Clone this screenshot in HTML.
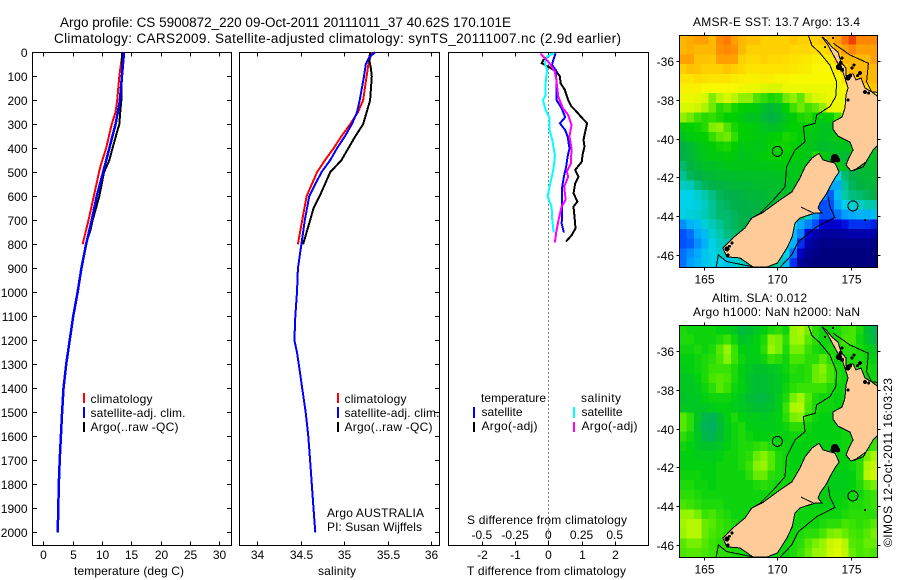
<!DOCTYPE html>
<html lang="en">
<head>
<meta charset="utf-8">
<title>Argo profile chart</title>
<style>
html,body{margin:0;padding:0;background:#fff;}
svg{display:block;font-family:"Liberation Sans",sans-serif;font-size:12px;fill:#000;}
.lbl{font-size:12px;}
.ttl{font-size:13.5px;}
</style>
</head>
<body>
<svg id="chart" xmlns="http://www.w3.org/2000/svg" width="900" height="580" viewBox="0 0 900 580">
  <rect x="0" y="0" width="900" height="580" fill="#fff"/>
  <defs>
    <clipPath id="clipSst"><rect x="679.5" y="35" width="198" height="232"/></clipPath>
    <clipPath id="clipSla"><rect x="679.5" y="325" width="198" height="232"/></clipPath>
  </defs>

  <text class="ttl" x="60" y="27" textLength="451" lengthAdjust="spacing">Argo profile: CS 5900872_220 09-Oct-2011 20111011_37 40.62S 170.101E</text>
  <text class="ttl" x="54" y="43" textLength="567" lengthAdjust="spacing">Climatology: CARS2009. Satellite-adjusted climatology: synTS_20111007.nc (2.9d earlier)</text>

  <text class="lbl" x="74" y="575" textLength="110" lengthAdjust="spacing">temperature (deg C)</text>
  <text class="lbl" x="318" y="575" textLength="38" lengthAdjust="spacing">salinity</text>
  <text class="lbl" x="467" y="575" textLength="159" lengthAdjust="spacing">T difference from climatology</text>
  <text class="lbl" x="467" y="524" textLength="160" lengthAdjust="spacing">S difference from climatology</text>

  <g>
    <rect x="83" y="393" width="2" height="10" fill="#f00"/>
    <text class="lbl" x="90.500" y="403" textLength="62" lengthAdjust="spacing">climatology</text>
    <rect x="83" y="407" width="2" height="11" fill="#00f"/>
    <text class="lbl" x="90.500" y="417" textLength="95" lengthAdjust="spacing">satellite-adj. clim.</text>
    <rect x="83" y="422" width="2" height="10" fill="#000"/>
    <text class="lbl" x="90.500" y="431" textLength="88" lengthAdjust="spacing">Argo(..raw -QC)</text>
  </g>
  <g>
    <rect x="337" y="393" width="2" height="10" fill="#f00"/>
    <text class="lbl" x="344.500" y="403" textLength="62" lengthAdjust="spacing">climatology</text>
    <rect x="337" y="407" width="2" height="11" fill="#00f"/>
    <text class="lbl" x="344.500" y="417" textLength="95" lengthAdjust="spacing">satellite-adj. clim.</text>
    <rect x="337" y="422" width="2" height="10" fill="#000"/>
    <text class="lbl" x="344.500" y="431" textLength="88" lengthAdjust="spacing">Argo(..raw -QC)</text>
  </g>
  <text class="lbl" x="327" y="517" textLength="97" lengthAdjust="spacing">Argo AUSTRALIA</text>
  <text class="lbl" x="327" y="531" textLength="95" lengthAdjust="spacing">PI: Susan Wijffels</text>

  <g>
    <text class="lbl" x="481" y="402" textLength="65" lengthAdjust="spacing">temperature</text>
    <text class="lbl" x="581" y="402" textLength="40" lengthAdjust="spacing">salinity</text>
    <rect x="473" y="407" width="2" height="11" fill="#00f"/>
    <text class="lbl" x="481.500" y="416" textLength="41" lengthAdjust="spacing">satellite</text>
    <rect x="473" y="422" width="2" height="10" fill="#000"/>
    <text class="lbl" x="481.500" y="430" textLength="56" lengthAdjust="spacing">Argo(-adj)</text>
    <rect x="573" y="407" width="2" height="11" fill="#0ff"/>
    <text class="lbl" x="581.500" y="416" textLength="41" lengthAdjust="spacing">satellite</text>
    <rect x="573" y="422" width="2" height="10" fill="#f0f"/>
    <text class="lbl" x="581.500" y="430" textLength="56" lengthAdjust="spacing">Argo(-adj)</text>
  </g>

  <text class="lbl" x="693" y="26" textLength="167" lengthAdjust="spacing">AMSR-E SST: 13.7 Argo: 13.4</text>
  <text class="lbl" x="712" y="302" textLength="95" lengthAdjust="spacing">Altim. SLA: 0.012</text>
  <text class="lbl" x="693" y="316" textLength="167" lengthAdjust="spacing">Argo h1000: NaN h2000: NaN</text>
  <text class="lbl" transform="translate(892,547) rotate(-90)" textLength="169" lengthAdjust="spacing">©IMOS 12-Oct-2011 16:03:23</text>
</svg>

<script>
// ---- profile data ----
const depthTicks = [0,100,200,300,400,500,600,700,800,900,1000,1100,1200,1300,1400,1500,1600,1700,1800,1900,2000];
const tempTicks = [0,5,10,15,20,25,30];
const salTicks = [34,34.5,35,35.5,36];
const salTickLabels = ['34','34.5','35','35.5','36'];
const tDiffTicks = [-2,-1,0,1,2];
const sDiffTicks = [-0.5,-0.25,0,0.25,0.5];
const sDiffTickLabels = ['-0.5','-0.25','0','0.25','0.5'];

const climTempDepth = [0,100,200,250,300,400,470,500,600,700,800];
const climTemp = [13.5,12.95,12.6,12.3,11.65,10.7,9.8,9.5,8.6,7.7,6.7];
const satTempDepth = [0,100,200,250,300,400,500,600,700,800,900,1000,1100,1200,1300,1400,1500,1600,1700,1800,1900,2000];
const satTemp = [13.75,13.4,13.05,12.7,12.3,11.25,10.2,9.1,8.25,7.3,6.5,5.85,5.1,4.5,3.9,3.45,3.2,3.0,2.8,2.65,2.55,2.45];
const argoTempDepth = [0,100,200,250,300,330,400,450,500,600,700,740,790];
const argoTemp = [13.4,13.4,13.3,13.1,12.95,12.6,11.8,11.25,10.35,9.55,8.4,8.05,7.4];

const climSalDepth = [0,50,100,200,250,300,350,400,450,500,550,600,700,800];
const climSal = [35.32,35.28,35.26,35.22,35.16,35.07,34.97,34.88,34.78,34.69,34.63,34.57,34.52,34.47];
const satSalDepth = [0,20,50,100,200,250,300,350,400,450,500,550,600,700,800,900,1000,1100,1200,1250,1300,1400,1500,1600,1700,1800,1900,2000];
const satSal = [35.36,35.29,35.25,35.23,35.18,35.15,35.09,35.01,34.92,34.84,34.74,34.67,34.6,34.55,34.51,34.47,34.46,34.44,34.43,34.46,34.48,34.52,34.56,34.59,34.61,34.63,34.65,34.67];
const argoSalDepth = [0,30,70,100,200,250,300,350,400,450,500,550,600,650,700,750,800];
const argoSal = [35.3,35.29,35.31,35.32,35.3,35.26,35.22,35.13,35.05,34.97,34.84,34.78,34.72,34.65,34.61,34.57,34.53];

const satTDiffDepth = [4,32,53,74,143,199,233,271,296,324,351,400,435,476,518,560,629,685,713,751];
const satTDiff = [.22,.15,.11,.23,.25,.25,.40,.51,.35,.51,.58,.64,.58,.54,.47,.42,.42,.42,.40,.47];
const argoTDiffDepth = [7,32,46,60,81,101,129,157,199,226,247,271,296,331,365,393,428,456,490,518,546,588,622,643,685,733,761,789];
const argoTDiff = [.10,-.15,-.2,0,.25,.35,.37,.5,.6,.7,.85,1.0,1.17,1.11,1.06,1.09,1.03,1.01,.81,.91,.81,.76,.88,.76,.79,.82,.71,.53];
const satSDiffDepth = [4,18,46,74,129,178,199,240,275,324,365,428,483,560,601,643,699,751];
const satSDiff = [.04,-.01,-.025,-.01,-.02,-.02,-.04,-.02,.01,.01,.03,.05,.04,.01,-.005,.025,.03,.04];
const argoSDiffDepth = [4,25,46,81,115,185,233,261,303,351,400,463,497,518,560,615,643,692,747,792];
const argoSDiff = [-.06,-.025,.01,.05,.06,.075,.11,.15,.175,.16,.175,.17,.14,.15,.12,.13,.10,.08,.06,.05];

// ---- map data ----
const mapLonTicks = [165,170,175];
const mapLatTicks = [-36,-38,-40,-42,-44,-46];
const gridLonStart = 163.34;
const gridLatStart = -34.66;
const gridStep = 0.5;

const sstGrid = [
[16.5,16.8,17,17,16.5,17.5,17.8,17,16.5,16.3,16.3,16,16,16,16,16.2,16,16,16,16.2,16.5,17,18,18.5,17.5,17.5,17.5],
[16.5,16.7,16.5,16.5,16.5,17.3,17.5,17.3,16.5,16,16,16,16,16,16,15.8,15.8,15.8,15.7,15.7,16,16.5,17,17.5,17,17,17],
[17,17,16.3,16.3,16.2,17,17,17,16,15.8,15.8,16,15.8,15.8,15.7,15.6,15.5,15.4,15.2,15.2,15.4,16,16.5,16.5,16.5,16.5,17],
[16,16.3,16.2,16,16,16,16.2,16,15.8,15.5,15.5,15.5,15.5,15.5,15.5,15.4,15.3,15.2,15,15,15,15.3,16,16.5,16.5,16.5,16.5],
[15.5,15.5,15.7,15.6,15.5,15.5,15.5,15.3,15.2,15.2,15.2,15.3,15.2,15.1,15.1,15,15,15,15,15,15,15,15.5,16,16.5,16.5,16.5],
[15.2,15.2,15.2,15,15,15,15,15,14.9,14.8,14.8,14.6,14.5,14.5,14.8,14.8,14.8,14.8,14.8,14.8,14.8,14.8,15,15,15.5,15.8,16.2],
[14.8,14.8,14.7,14.5,13.9,14.3,14.5,14.3,14,14,13.6,13.4,13.2,13.3,13.8,14,13.7,14.3,14.5,14.6,14.8,14.8,14.8,14.8,15,15,15],
[14.5,14.5,14.4,14.2,13.8,13.3,13.5,13.2,13,12.9,12.8,12.5,12.3,12.5,13,13.5,13.8,13.5,13.7,14,14.8,14.8,14.8,15,15,15,15],
[14,13.8,13.5,13.3,13.4,13.2,13,13,12.8,12.6,12.6,12.3,12.1,12.3,12.7,12.9,13.2,13.3,13,12.8,13,13.5,14.8,14.8,15,15,15],
[12.9,13,13.1,13.3,13.9,14,13.6,13.2,13,12.9,12.8,12.6,12.5,12.6,12.8,13,13,12.9,12.8,12.6,12.6,12.7,13.2,14,14,14,14],
[12.6,12.8,12.9,13,13.4,13.7,13.8,13.4,13,12.9,12.8,12.8,12.9,13,13.2,13.1,12.9,12.8,12.7,12.6,12.7,12.8,13,13.2,13,13,13],
[12.1,12.3,12.6,12.8,12.9,13.1,13.2,13,12.7,12.8,12.7,12.8,13,13.1,13.1,13,12.8,12.7,12.6,12.4,12.5,12.6,12.6,12.8,12.8,12.8,12.8],
[12,12.2,12.5,12.7,12.8,12.8,12.9,12.8,12.6,12.7,12.8,12.9,13,13,13,12.9,12.8,12.7,13.3,12.9,12.6,12.4,12.3,12.4,12.5,12.5,12.6],
[11.8,12.1,12.3,12.5,12.5,12.6,12.7,12.7,12.7,12.7,12.7,12.7,12.7,12.8,12.8,12.7,12.7,12.8,12.8,13,13,12.8,12.5,12.3,12.3,12.4,12.5],
[11.6,11.9,12,12.2,12.3,12.4,12.4,12.4,12.5,12.5,12.5,12.5,12.5,12.6,12.6,12.7,12.7,12.8,12.8,12.8,12.5,11,11.8,12,12.2,12.3,12.3],
[11.3,11.4,11.7,11.9,12,12.1,12.2,12.3,12.3,12.3,12.4,12.4,12.4,12.5,12.5,12.6,12.7,12.8,12.7,12.5,10.6,10.6,11.6,11.9,12.1,12.2,12.2],
[11,11,11.2,11.5,11.7,11.9,12,12,12.1,12.2,12.2,12.3,12.4,12.4,12.5,12.5,12.6,12.7,12.5,10.4,10.1,10.8,11.5,11.7,11.8,11.9,12],
[11,11,11.1,11.3,11.6,11.8,11.9,12,12,12.1,12.1,12.2,12.3,12.4,12.4,12.5,12.5,12.5,10.8,10,10,10.6,11,11.2,11.3,11.5,11.5],
[11,11.1,11.2,11.4,11.6,11.8,11.8,11.9,12,12,12.1,12.1,12.3,12.4,12.4,12.4,12.2,11.2,10.5,10,10,10.2,10.5,10.6,10.7,10.7,10.8],
[10.4,10.7,10.8,11.1,11.4,11.6,11.8,11.9,12,12,12,12,12.2,12.2,12,11,10.6,10.3,10,9.5,9.3,9.4,9.6,9.8,9.8,9.8,9.7],
[10,10.2,10.6,10.8,11.2,11.5,11.7,11.8,11.9,12,12,12,12,12,11.5,10.8,10.3,9.5,9,8.8,8.8,8.8,8.9,9,9,9,9],
[10,10.1,10.4,10.7,11,11.3,11.5,11.7,11.8,12,12,12,12,12,11.2,10.7,9.8,9,8.7,8.6,8.6,8.6,8.6,8.6,8.6,8.6,8.6],
[10.2,10.4,10.6,10.9,11,11.2,11.3,11.5,11.5,11.6,11.8,12,12,11.7,11,10.2,9.2,8.7,8.6,8.5,8.5,8.5,8.5,8.5,8.5,8.5,8.5],
[10.2,10.5,10.7,10.9,11,11,10.9,11.2,11.3,11.5,11.6,11.8,11.8,11.5,10.8,9.8,8.8,8.6,8.5,8.5,8.5,8.5,8.5,8.5,8.5,8.5,8.5]
];

const slaGrid = [
[2,1,1,1,1,0,0,-2,-5,-4,-2,0,2,3,1,10,12,8,3,1,1,2,4,5,2,-4,-7],
[2,2,1,1,1,2,4,1,-3,-2,0,2,9,8,3,10,11,6,3,1,1,2,5,5,1,-3,-6],
[1,1,2,1,2,6,10,4,0,-1,0,3,10,8,2,8,8,4,2,1,2,2,3,3,2,0,-2],
[0,0,1,2,3,5,9,4,1,-1,-1,1,4,3,1,5,5,3,3,6,3,1,2,2,2,1,0],
[-1,0,1,2,4,4,4,2,0,-2,-3,-3,-2,-1,1,3,2,3,7,9,5,2,1,2,2,2,1],
[-2,-2,0,2,5,6,5,2,0,-3,-4,-4,-3,-2,0,2,2,3,7,8,5,2,1,1,1,1,1],
[-2,-2,-1,1,3,6,4,1,0,-3,-4,-4,-3,-2,1,3,4,4,4,4,2,1,1,1,1,1,1],
[-3,-2,-2,0,1,1,1,0,-2,-4,-5,-5,-4,-1,2,8,11,6,2,1,1,0,1,1,0,0,0],
[-2,-2,-2,-2,-1,0,0,-1,-2,-3,-4,-4,-3,-1,4,12,13,5,2,1,1,0,1,1,1,0,0],
[6,3,-2,-6,-7,-4,0,2,0,-1,-1,-2,-1,0,3,8,9,3,1,0,0,0,1,1,1,1,1],
[6,3,-3,-7,-8,-5,-1,1,2,0,-1,-1,-1,0,1,3,3,1,0,0,0,0,1,1,1,1,2],
[3,1,-2,-6,-7,-4,-1,1,2,1,0,0,0,0,0,1,1,0,0,0,0,0,1,1,1,2,3],
[1,0,-2,-3,-3,-2,0,1,2,2,3,4,2,1,1,0,0,0,0,0,0,0,1,1,2,2,4],
[0,0,-1,-1,-1,0,1,1,2,3,7,9,6,2,1,0,0,0,0,0,0,0,0,1,2,8,12],
[0,0,0,0,0,1,1,1,2,4,9,10,6,2,1,0,0,0,0,0,0,0,0,1,3,12,15],
[1,1,1,0,0,1,1,1,1,3,7,7,3,2,1,1,0,0,0,0,0,-1,-1,0,3,13,16],
[2,2,1,1,0,1,1,1,1,1,2,3,2,1,1,1,1,0,0,0,-1,-1,-1,0,2,6,8],
[3,3,2,1,1,1,1,1,1,1,1,1,1,1,2,2,1,0,0,0,0,0,0,1,1,3,4],
[5,4,3,2,2,2,1,1,1,1,1,1,1,2,3,3,2,0,0,0,0,0,1,2,2,3,4],
[10,10,8,4,5,3,2,1,1,1,1,1,1,1,2,2,1,1,1,1,1,1,2,3,3,3,3],
[11,13,13,7,6,4,3,2,1,1,1,1,1,1,1,1,1,1,1,2,3,3,5,4,3,4,6],
[10,13,13,7,5,4,3,2,2,1,1,1,1,1,1,1,2,3,3,5,8,9,7,5,4,6,8],
[6,8,8,6,4,3,3,2,2,1,1,1,1,1,1,2,3,6,8,10,15,17,13,6,5,7,7],
[5,6,6,5,4,3,3,2,2,1,1,1,1,1,1,2,4,7,10,11,16,18,14,7,5,6,5]
];

const sstStopValues = [8.5,9.5,10,10.5,11,11.5,12,12.5,13,13.5,14,14.5,15,16,17,18,19];
const sstStopColors = [[0,0,127],[0,0,216],[0,80,255],[0,160,255],[0,208,232],[0,200,168],[0,176,72],[0,192,40],[0,208,0],[64,224,0],[144,240,0],[216,248,0],[248,248,0],[255,208,0],[255,160,0],[255,112,0],[224,16,0]];
const slaStopValues = [-8,-4,0,5,10,15,18];
const slaStopColors = [[0,176,96],[0,190,50],[0,208,16],[70,230,0],[150,245,0],[200,248,0],[224,248,0]];

const northIslandLon = [173.03,173.3,173.71,174.12,174.32,174.66,174.66,175.14,175.34,175.68,175.95,176.42,176.96,176.96,176.5,176.02,175.34,175,174.66,174.86,175.14,174.93,174.12,173.78,173.78,174.39,174.59,174.66,174.8,174.46,173.98,173.44];
const northIslandLat = [-34.76,-34.92,-35.28,-35.54,-36.05,-36.36,-36.77,-36.67,-36.98,-36.88,-37.39,-37.6,-37.91,-40.23,-40.59,-41.2,-41.57,-41.67,-41.36,-41,-40.59,-40.18,-39.87,-39.51,-39.14,-38.89,-38.42,-37.75,-37.39,-36.57,-35.95,-35.18];
const southIslandLon = [172.83,173.1,173.57,173.9,174.19,173.91,173.57,173.37,172.9,172.76,173.03,172.55,171.54,171.2,171,170.65,170,169.3,168.35,167.46,166.58,166.3,166.99,167.8,168.28,168.96,170.18,170.99,171.54,171.88,172.35];
const southIslandLat = [-40.76,-41.1,-41.2,-41.26,-41.72,-42.03,-42.49,-42.8,-43.32,-43.58,-43.84,-43.84,-44.09,-44.35,-45.07,-45.64,-46.41,-46.62,-46.62,-46.15,-46.1,-45.64,-45.12,-44.61,-44.09,-43.84,-43.16,-42.75,-42.03,-41.46,-41];

const westContourLon = [172.1,172.33,172.9,173.57,174.03,173.96,173.57,172.67,172.56,171.76,171.88,171.2,170.63,170.52,169.73,168.82,168.14];
const westContourLat = [-34.66,-35.18,-35.6,-36.21,-37.07,-37.84,-38.35,-38.78,-39.21,-39.38,-40.16,-40.59,-41.45,-42.48,-43.16,-43.85,-44.16];
const eastContourLon = [173.8,174.93,176.18,176.06,176.4,176.9];
const eastContourLat = [-35.09,-35.69,-36.12,-37.07,-37.58,-37.63];
const cookContourLon = [176.9,176.4,175.84,175.16];
const cookContourLat = [-40.24,-40.67,-41.45,-41.65];
const southContourLon = [173.46,173.57,173.91,172.67,171.43,170.97,170.18];
const southContourLat = [-42.99,-43.51,-44.06,-44.54,-45.31,-46.0,-46.64];
const swContourLon = [165.84,166,166.56,168.26];
const swContourLat = [-46.64,-46,-46.34,-46.6];
const riverLon = [171.6,172.47];
const riverLat = [-43.53,-43.84];

const specksLon = [173.91,174.1,173.75,174.18,174.3,174.4,174.8,174.95,174.39,175.2,175.61,175.45,175.07,175.95,176.2,174.8,173.24,173.78,166.92,166.58,166.75,166.65,175.95];
const specksLat = [-41,-41.1,-41.1,-36.31,-36.1,-36.45,-36.88,-36.75,-35.85,-36.21,-36.62,-36.75,-36.36,-37.6,-37.65,-38.01,-35.28,-34.81,-45.38,-45.69,-45.55,-46,-44.2];
const specksRadius = [4,2.5,2,3,2,2,2.5,2,1.5,1.5,2,1.5,1.5,2,1.5,1.5,1,1,1.5,2.5,1.5,1.5,1];

const argoPosLon = [170.0,175.13];
const argoPosLat = [-40.66,-43.47];

// ---- helpers ----
const svg = document.getElementById('chart');
const NS = 'http://www.w3.org/2000/svg';
function make(tag, attrs, parent){
  const e = document.createElementNS(NS, tag);
  for (const k in attrs) e.setAttribute(k, attrs[k]);
  (parent || svg).appendChild(e);
  return e;
}
const depthY = d => 52.3 + d * 0.24;
const tempX = v => 43.3 + v * 5.867;
const salX = v => 257 + (v - 34) * 87;
const tDiffX = v => 548.3 + v * 33.2;
const sDiffX = v => 548.3 + v * 132.8;
const lonX = v => 703.7 + (v - 165) * 14.73;
const sstLatY = v => 61 + (-36 - v) * 19.4;
const slaLatY = v => 351 + (-36 - v) * 19.4;

function drawLine(name, depths, values, xFn, color, width){
  const pts = depths.map((d, i) => xFn(values[i]).toFixed(1) + ',' + depthY(d).toFixed(1)).join(' ');
  const line = make('polyline', {points: pts, fill: 'none', stroke: color, 'stroke-width': width, 'shape-rendering': 'crispEdges'});
  
  
}
function drawFrame(name, x0, y0, x1, y1){
  const r = make('rect', {x: x0, y: y0, width: x1 - x0, height: y1 - y0, fill: 'none', stroke: '#000', 'stroke-width': 1, 'shape-rendering': 'crispEdges'});
  
  
}
function drawTick(name, x1, y1, x2, y2){
  const t = make('line', {x1: x1, y1: y1, x2: x2, y2: y2, stroke: '#000', 'stroke-width': 1, 'shape-rendering': 'crispEdges'});
  
  
}
function drawLabel(name, x, y, str, anchor){
  const t = make('text', {x: x, y: y, 'text-anchor': anchor, class: 'lbl'});
  t.textContent = str;
  
  
}
const T = 52.5, B = 545.5;

// ---- panel 1 : temperature ----
drawFrame('temperature-panel-frame', 32.5, T, 231.5, B);
depthTicks.forEach(d => {
  const y = Math.round(depthY(d)) + 0.5;
  drawTick('depth-tick-left', 32.5, y, 37, y);
  drawTick('depth-tick-right', 227, y, 231.5, y);
  drawLabel('depth-tick-label', 27.5, y + 4.5, String(d), 'end');
});
tempTicks.forEach(v => {
  const x = Math.round(tempX(v)) + 0.5;
  drawTick('temperature-tick-top', x, T, x, T + 4);
  drawTick('temperature-tick-bottom', x, B - 4, x, B);
  drawLabel('temperature-tick-label', x, 559, String(v), 'middle');
});
drawLine('temperature-climatology-line', climTempDepth, climTemp, tempX, '#f00', 2);
drawLine('temperature-argo-line', argoTempDepth, argoTemp, tempX, '#000', 2);
drawLine('temperature-satellite-line', satTempDepth, satTemp, tempX, '#00f', 2.5);

// ---- panel 2 : salinity ----
drawFrame('salinity-panel-frame', 239.5, T, 439.5, B);
depthTicks.forEach(d => {
  const y = Math.round(depthY(d)) + 0.5;
  drawTick('salinity-depth-tick-right', 435, y, 439.5, y);
});
salTicks.forEach((v, i) => {
  const x = Math.round(salX(v)) + 0.5;
  drawTick('salinity-tick-top', x, T, x, T + 4);
  drawTick('salinity-tick-bottom', x, B - 4, x, B);
  drawLabel('salinity-tick-label', x, 559, salTickLabels[i], 'middle');
});
drawLine('salinity-climatology-line', climSalDepth, climSal, salX, '#f00', 2);
drawLine('salinity-argo-line', argoSalDepth, argoSal, salX, '#000', 2);
drawLine('salinity-satellite-line', satSalDepth, satSal, salX, '#00f', 2);

// ---- panel 3 : differences ----
drawFrame('difference-panel-frame', 448.5, T, 648.5, B);
const zeroLine = make('line', {x1: tDiffX(0), y1: T, x2: tDiffX(0), y2: B, stroke: '#000', 'stroke-width': 1, 'stroke-dasharray': '1 3', 'shape-rendering': 'crispEdges'});


tDiffTicks.forEach(v => {
  const x = Math.round(tDiffX(v)) + 0.5;
  drawTick('t-difference-tick-top', x, T, x, T + 4);
  drawTick('t-difference-tick-bottom', x, B - 4, x, B);
  drawLabel('t-difference-tick-label', x, 559, String(v), 'middle');
});
sDiffTicks.forEach((v, i) => {
  drawLabel('s-difference-tick-label', sDiffX(v), 539, sDiffTickLabels[i], 'middle');
});
drawLine('t-difference-argo-line', argoTDiffDepth, argoTDiff, tDiffX, '#000', 2);
drawLine('t-difference-satellite-line', satTDiffDepth, satTDiff, tDiffX, '#00f', 2);
drawLine('s-difference-satellite-line', satSDiffDepth, satSDiff, sDiffX, '#0ff', 2);
drawLine('s-difference-argo-line', argoSDiffDepth, argoSDiff, sDiffX, '#f0f', 2);

// ---- maps ----
function colorFor(v, stops, colors){
  if (v <= stops[0]) return 'rgb(' + colors[0].join(',') + ')';
  for (let i = 1; i < stops.length; i++){
    if (v <= stops[i]){
      const f = (v - stops[i-1]) / (stops[i] - stops[i-1]);
      const c = colors[i-1].map((a, k) => Math.round(a + (colors[i][k] - a) * f));
      return 'rgb(' + c.join(',') + ')';
    }
  }
  return 'rgb(' + colors[colors.length-1].join(',') + ')';
}
function toPoints(lons, lats, yFn){
  return lons.map((lon, i) => lonX(lon).toFixed(1) + ',' + yFn(lats[i]).toFixed(1)).join(' ');
}
function drawMap(prefix, clipId, grid, stops, colors, yFn, top, bottom){
  const g = make('g', {'clip-path': 'url(#' + clipId + ')'});
  
  
  grid.forEach((row, r) => {
    row.forEach((v, c) => {
      const x0 = lonX(gridLonStart + c * gridStep), x1 = lonX(gridLonStart + (c + 1) * gridStep);
      const y0 = yFn(gridLatStart - r * gridStep), y1 = yFn(gridLatStart - (r + 1) * gridStep);
      const cell = make('rect', {x: x0.toFixed(2), y: y0.toFixed(2), width: (x1 - x0 + 0.6).toFixed(2), height: (y1 - y0 + 0.6).toFixed(2), fill: colorFor(v, stops, colors), 'shape-rendering': 'crispEdges'}, g);
      
      
    });
  });
  const contours = [[westContourLon, westContourLat, 'west'], [eastContourLon, eastContourLat, 'east'], [cookContourLon, cookContourLat, 'cook'], [southContourLon, southContourLat, 'south'], [swContourLon, swContourLat, 'southwest']];
  contours.forEach(ct => {
    const line = make('polyline', {points: toPoints(ct[0], ct[1], yFn), fill: 'none', stroke: '#000', 'stroke-width': 1, 'shape-rendering': 'crispEdges'}, g);
    
    
  });
  const north = make('polygon', {points: toPoints(northIslandLon, northIslandLat, yFn), fill: '#ffcc99', stroke: '#000', 'stroke-width': 1, 'shape-rendering': 'crispEdges'}, g);
  
  
  const south = make('polygon', {points: toPoints(southIslandLon, southIslandLat, yFn), fill: '#ffcc99', stroke: '#000', 'stroke-width': 1, 'shape-rendering': 'crispEdges'}, g);
  
  
  const river = make('polyline', {points: toPoints(riverLon, riverLat, yFn), fill: 'none', stroke: '#000', 'stroke-width': 1, 'shape-rendering': 'crispEdges'}, g);
  
  
  specksLon.forEach((lon, i) => {
    const s = make('circle', {cx: lonX(lon), cy: yFn(specksLat[i]), r: specksRadius[i], fill: '#000', 'shape-rendering': 'crispEdges'}, g);
    
    
  });
  argoPosLon.forEach((lon, i) => {
    const s = make('circle', {cx: lonX(lon), cy: yFn(argoPosLat[i]), r: 5, fill: 'none', stroke: '#000', 'stroke-width': 1, 'shape-rendering': 'crispEdges'}, g);
    
    
  });
  drawFrame(prefix + '-map-frame', 679.5, top, 877.5, bottom);
  mapLonTicks.forEach(lon => {
    const x = Math.round(lonX(lon)) + 0.5;
    drawTick(prefix + '-lon-tick-top', x, top - 3, x, top);
    drawTick(prefix + '-lon-tick-bottom', x, bottom, x, bottom + 3);
    drawLabel(prefix + '-lon-tick-label', x, bottom + 16, String(lon), 'middle');
  });
  mapLatTicks.forEach(lat => {
    const y = Math.round(yFn(lat)) + 0.5;
    drawTick(prefix + '-lat-tick-left', 676.5, y, 679.5, y);
    drawTick(prefix + '-lat-tick-right', 877.5, y, 880.5, y);
    drawLabel(prefix + '-lat-tick-label', 674, y + 4.5, String(lat), 'end');
  });
}
drawMap('sst', 'clipSst', sstGrid, sstStopValues, sstStopColors, sstLatY, 35.5, 267.5);
drawMap('sla', 'clipSla', slaGrid, slaStopValues, slaStopColors, slaLatY, 325.5, 557.5);
</script>
</body>
</html>
